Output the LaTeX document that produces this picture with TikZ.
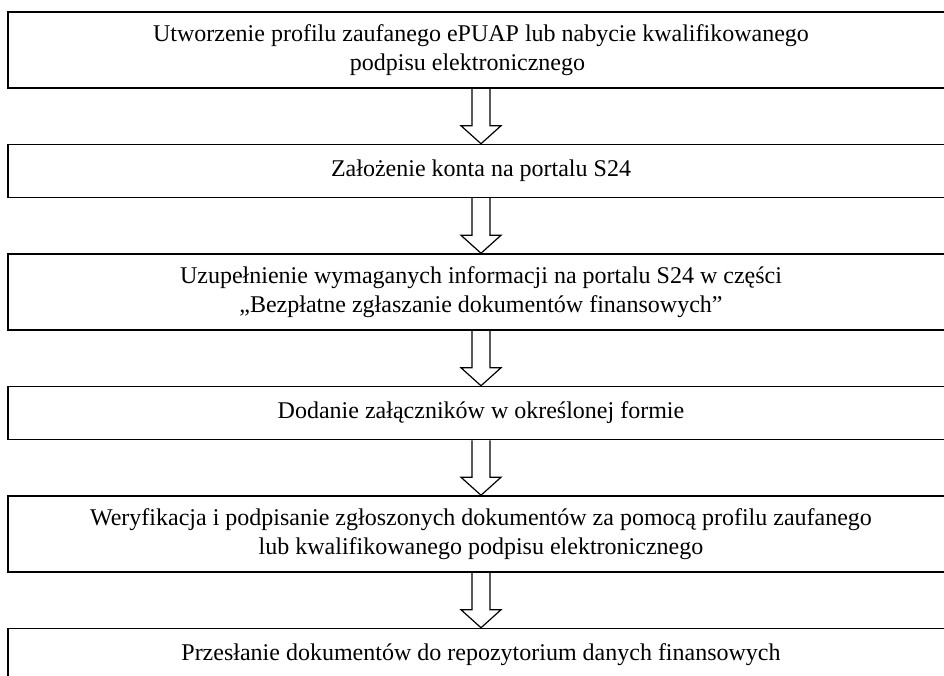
\documentclass[tikz,border=0pt]{standalone}
\usepackage{fontspec}
\setmainfont{Liberation Serif}
\usetikzlibrary{positioning,calc}

\tikzset{
  stepbox/.style={draw, line width=1.5pt, minimum width=946pt, inner sep=2pt,
    align=center, font=\fontsize{24pt}{29.5pt}\selectfont},
  oneline/.style={stepbox, minimum height=53pt},
  twoline/.style={stepbox, minimum height=76pt},
  arrowline/.style={line width=1.2pt, miter limit=20}
}
% hollow block arrow from the bottom of #1 to the top of #2
\newcommand\flowarrow[2]{%
  \draw[arrowline] ($(#1.south)+(-9pt,0)$) -- ($(#2.north)+(-9pt,18pt)$)
    -- ($(#2.north)+(-20pt,18pt)$) -- (#2.north) -- ($(#2.north)+(20pt,18pt)$)
    -- ($(#2.north)+(9pt,18pt)$) -- ($(#1.south)+(9pt,0)$);}

\begin{document}
\begin{tikzpicture}[node distance=55pt]
\useasboundingbox (0,0) rectangle (944pt,-676pt);
\node[twoline] (profil) at (481pt,-50pt)
  {Utworzenie profilu zaufanego ePUAP lub nabycie kwalifikowanego\\ podpisu elektronicznego\hspace*{27pt}};
\node[oneline, below=of profil] (konto) {Założenie konta na portalu S24};
\node[twoline, below=of konto] (info)
  {Uzupełnienie wymaganych informacji na portalu S24 w części\\ „Bezpłatne zgłaszanie dokumentów finansowych”};
\node[oneline, below=of info] (zal) {Dodanie załączników w określonej formie};
\node[twoline, below=of zal] (podpis)
  {Weryfikacja i podpisanie zgłoszonych dokumentów za pomocą profilu zaufanego\\ lub kwalifikowanego podpisu elektronicznego};
\node[oneline, below=of podpis] (repo) {Przesłanie dokumentów do repozytorium danych finansowych};

\flowarrow{profil}{konto}
\flowarrow{konto}{info}
\flowarrow{info}{zal}
\flowarrow{zal}{podpis}
\flowarrow{podpis}{repo}
\end{tikzpicture}
\end{document}
